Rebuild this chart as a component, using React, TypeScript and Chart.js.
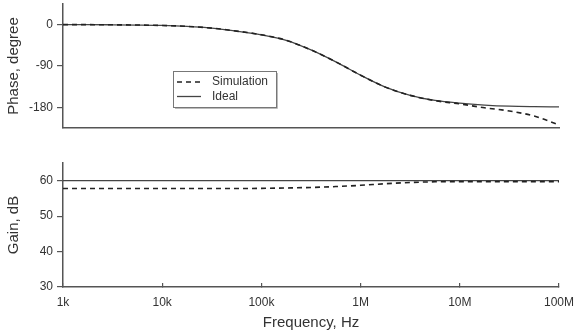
import React, { useEffect, useRef } from 'react';
import { Chart, registerables } from 'chart.js';

Chart.register(...registerables);

// ---- data ----
const freqs = [
  1000, 1778, 3162, 5623, 10000, 17783, 31623, 56234, 100000, 177828, 316228,
  562341, 1000000, 1778279, 3162278, 5623413, 10000000, 17782794, 31622777,
  56234133, 100000000,
];
const phaseIdeal = [
  0, 0, -0.3, -0.8, -1.7, -3.8, -7.5, -14, -22, -34, -55, -81, -110, -136,
  -154, -165, -171, -175, -177.5, -178.6, -179.2,
];
const phaseSim = [
  0, 0, -0.3, -0.8, -1.7, -3.8, -7.5, -14, -22, -34, -55, -81, -110, -136,
  -154, -165.5, -172.5, -181, -188, -199, -218,
];
const gainIdeal = [
  60, 60, 60, 60, 60, 60, 60, 60, 60, 60, 60, 60, 60, 60, 60, 60, 60, 60, 60,
  60, 60,
];
const gainSim = [
  57.8, 57.8, 57.8, 57.8, 57.8, 57.8, 57.8, 57.8, 57.85, 57.95, 58.1, 58.35,
  58.7, 59.15, 59.5, 59.7, 59.75, 59.75, 59.75, 59.75, 59.75,
];
const xTickValues = [1e3, 1e4, 1e5, 1e6, 1e7, 1e8];
const xTickLabels = ['1k', '10k', '100k', '1M', '10M', '100M'];
const phaseTicks = [-180, -90, 0];
const gainTicks = [30, 40, 50, 60];
const seriesNames = ['Simulation', 'Ideal'];

const FONT = "'Liberation Sans', Arial, Helvetica, sans-serif";
const TEXT = '#333';
const AXIS = '#555';

const boxLegend = {
  id: 'boxLegend',
  afterDatasetsDraw(chart: any, _args: any, opts: any) {
    if (!opts || !opts.show) return;
    const ctx = chart.ctx;
    const { x, y, w, h, rows, s0, s1, tx } = opts;
    ctx.save();
    ctx.fillStyle = '#fff';
    ctx.fillRect(x, y, w, h);
    ctx.strokeStyle = '#bbb';
    ctx.lineWidth = 1;
    ctx.beginPath();
    ctx.moveTo(x + 2, y + h + 1.5);
    ctx.lineTo(x + w + 1.5, y + h + 1.5);
    ctx.lineTo(x + w + 1.5, y + 2);
    ctx.stroke();
    ctx.strokeStyle = '#777';
    ctx.strokeRect(x + 0.5, y + 0.5, w, h);
    chart.data.datasets.forEach((ds: any, i: number) => {
      const yy = y + rows[i];
      ctx.beginPath();
      ctx.setLineDash(ds.borderDash || []);
      ctx.strokeStyle = ds.borderColor;
      ctx.lineWidth = ds.borderWidth;
      ctx.moveTo(x + s0, yy);
      ctx.lineTo(x + s1, yy);
      ctx.stroke();
      ctx.setLineDash([]);
      ctx.fillStyle = TEXT;
      ctx.font = `12px ${FONT}`;
      ctx.textBaseline = 'middle';
      ctx.textAlign = 'left';
      ctx.fillText(ds.label, x + tx, yy);
    });
    ctx.restore();
  },
};

function makeDatasets(sim: number[], ideal: number[]) {
  return [
    {
      label: seriesNames[0],
      data: freqs.map((f, i) => ({ x: f, y: sim[i] })),
      borderColor: '#222',
      borderWidth: 1.6,
      borderDash: [5, 4],
      pointRadius: 0,
      cubicInterpolationMode: 'monotone',
      fill: false,
    },
    {
      label: seriesNames[1],
      data: freqs.map((f, i) => ({ x: f, y: ideal[i] })),
      borderColor: '#444',
      borderWidth: 1.3,
      pointRadius: 0,
      cubicInterpolationMode: 'monotone',
      fill: false,
    },
  ];
}

function yScale(min: number, max: number, ticks: number[], title: string) {
  return {
    type: 'linear',
    min,
    max,
    afterBuildTicks: (s: any) => {
      s.ticks = ticks.map((v) => ({ value: v }));
    },
    afterFit: (s: any) => {
      s.width = 63;
      s.paddingTop = 0;
      s.paddingBottom = 0;
    },
    border: { display: true, color: AXIS, width: 1.5 },
    grid: {
      display: true,
      drawOnChartArea: false,
      drawTicks: true,
      tickLength: 6,
      color: AXIS,
      lineWidth: 1.2,
    },
    ticks: {
      color: TEXT,
      font: { family: FONT, size: 12 },
      padding: 4,
    },
    title: {
      display: true,
      text: title,
      color: TEXT,
      font: { family: FONT, size: 15 },
      padding: { top: 5, bottom: 0 },
    },
  };
}

export default function App() {
  const topRef = useRef<HTMLCanvasElement>(null);
  const botRef = useRef<HTMLCanvasElement>(null);

  useEffect(() => {
    const top = new Chart(topRef.current as HTMLCanvasElement, {
      type: 'line',
      data: { datasets: makeDatasets(phaseSim, phaseIdeal) as any },
      options: {
        animation: false,
        responsive: false,
        parsing: false as any,
        layout: { padding: { left: 0, right: 15, top: 4, bottom: 206 } },
        plugins: {
          legend: { display: false },
          tooltip: { enabled: false },
          boxLegend: {
            show: true,
            x: 173,
            y: 71,
            w: 103,
            h: 36,
            rows: [11, 25.5],
            s0: 4,
            s1: 28,
            tx: 39,
          },
        } as any,
        scales: {
          x: {
            type: 'logarithmic',
            min: 1e3,
            max: 1e8,
            afterFit: (s: any) => {
              s.height = 0;
              s.paddingLeft = 0;
              s.paddingRight = 0;
            },
            border: { display: true, color: AXIS, width: 1.5 },
            grid: { display: false },
            ticks: { display: false },
          },
          y: yScale(-225, 45, phaseTicks, 'Phase, degree'),
        } as any,
      },
      plugins: [boxLegend as any],
    });

    const bot = new Chart(botRef.current as HTMLCanvasElement, {
      type: 'line',
      data: { datasets: makeDatasets(gainSim, gainIdeal) as any },
      options: {
        animation: false,
        responsive: false,
        parsing: false as any,
        layout: { padding: { left: 0, right: 15, top: 163, bottom: 0 } },
        plugins: {
          legend: { display: false },
          tooltip: { enabled: false },
        },
        scales: {
          x: {
            type: 'logarithmic',
            min: 1e3,
            max: 1e8,
            afterBuildTicks: (s: any) => {
              s.ticks = xTickValues.map((v) => ({ value: v, major: true }));
            },
            afterFit: (s: any) => {
              s.height = 47;
              s.paddingLeft = 0;
              s.paddingRight = 0;
            },
            border: { display: true, color: AXIS, width: 1.5 },
            grid: {
              display: true,
              drawOnChartArea: false,
              drawTicks: true,
              tickLength: -4,
              color: AXIS,
              lineWidth: 1.2,
            },
            ticks: {
              color: TEXT,
              font: { family: FONT, size: 12 },
              padding: 12,
              maxRotation: 0,
              autoSkip: false,
              callback: (v: any) => {
                const i = xTickValues.indexOf(Number(v));
                return i >= 0 ? xTickLabels[i] : '';
              },
            },
            title: {
              display: true,
              text: 'Frequency, Hz',
              color: TEXT,
              font: { family: FONT, size: 15 },
              padding: { top: 0, bottom: 2 },
            },
          },
          y: yScale(30, 65, gainTicks, 'Gain, dB'),
        } as any,
      },
    });

    return () => {
      top.destroy();
      bot.destroy();
    };
  }, []);

  const cv: React.CSSProperties = {
    position: 'absolute',
    left: 0,
    top: 0,
    width: 574,
    height: 334,
  };

  return (
    <div
      style={{
        position: 'absolute',
        left: 0,
        top: 0,
        width: 574,
        height: 334,
        background: '#fff',
        overflow: 'hidden',
      }}
    >
      <canvas ref={botRef} width={574} height={334} style={cv} />
      <canvas ref={topRef} width={574} height={334} style={cv} />
    </div>
  );
}
